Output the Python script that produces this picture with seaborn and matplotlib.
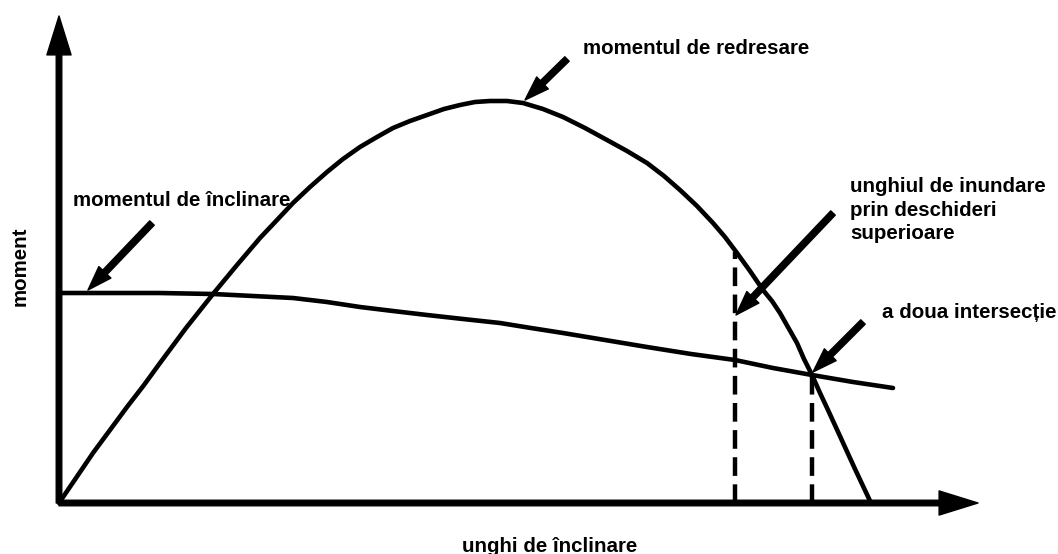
import matplotlib
matplotlib.use("Agg")
import matplotlib.pyplot as plt
import seaborn as sns

# Stability diagram: righting moment vs heeling moment
# heel angle in degrees, moment in arbitrary units
righting_angle = [0, 1.7, 3.4, 6.8, 8.5, 10.1, 12.7, 15.4, 17.8, 20.1, 21.8, 23.4,
                  25.1, 26.8, 28.4, 30.1, 31.8, 33.4, 35.1, 36.8, 38.5, 40.1, 41.6,
                  43.1, 44.8, 46.4, 48.4, 50.4, 52.6, 54.8, 56.8, 58.8, 60.5, 62.1,
                  63.8, 65.4, 66.6, 67.8, 69.1, 70.4, 71.3, 72.1, 73.8, 74.5, 75.3,
                  76.1, 76.9, 78.0, 79.6, 81.2]
righting_moment = [0, 2.5, 5.0, 9.6, 11.8, 14.0, 17.5, 20.9, 23.8, 26.5, 28.3, 30.0,
                   31.6, 33.1, 34.4, 35.6, 36.6, 37.5, 38.2, 38.8, 39.4, 39.8, 40.1,
                   40.2, 40.2, 40.0, 39.4, 38.6, 37.5, 36.3, 35.2, 34.0, 32.7, 31.3,
                   29.7, 28.0, 26.6, 25.0, 23.2, 21.3, 20.2, 19.0, 16.0, 14.4, 12.8,
                   11.0, 9.3, 6.9, 3.4, 0]

heeling_angle = [0, 5.0, 10.0, 15.4, 19.4, 23.4, 26.8, 30.1, 33.4, 36.8, 40.4, 44.1,
                 47.2, 50.4, 54.6, 58.8, 63.2, 67.6, 71.4, 75.3, 79.4, 83.4]
heeling_moment = [21.0, 21.0, 21.0, 20.9, 20.7, 20.5, 20.1, 19.6, 19.2, 18.8, 18.4,
                  18.0, 17.5, 17.0, 16.3, 15.6, 14.9, 14.3, 13.5, 12.8, 12.1, 11.5]

# flooding angle and second intersection (dashed verticals)
marker_angle = [67.6, 75.3]
marker_moment = [25.1, 12.8]

sns.set_style("white")
plt.rcParams["font.family"] = ["Liberation Sans", "DejaVu Sans"]

fig = plt.figure(figsize=(10.58, 5.54), dpi=100)
ax = fig.add_axes([0, 0, 1, 1])

sns.lineplot(x=righting_angle, y=righting_moment, color="black", lw=3.3,
             sort=False, ax=ax, solid_joinstyle="round")
sns.lineplot(x=heeling_angle, y=heeling_moment, color="black", lw=3.3,
             sort=False, ax=ax, solid_joinstyle="round")
ax.vlines(marker_angle, 0, marker_moment, colors="black", lw=3.2,
          linestyles=(0, (4.2, 1.9)))

# axes drawn as arrows
axis_style = "simple,head_length=1.4,head_width=0.87,tail_width=0.2"
ax.annotate("", xy=(0, 48.7), xytext=(0, 0),
            arrowprops=dict(arrowstyle=axis_style, fc="black", ec="black",
                            mutation_scale=20, shrinkA=0, shrinkB=0))
ax.annotate("", xy=(91.9, 0), xytext=(0, 0),
            arrowprops=dict(arrowstyle=axis_style, fc="black", ec="black",
                            mutation_scale=20, shrinkA=0, shrinkB=0))

ax.set_xlim(-5.9, 99.9)
ax.set_ylim(-5.1, 50.3)
ax.axis("off")

txt = dict(fontsize=14.8, fontweight="bold", color="black")
arrow_style = "simple,head_length=1.1,head_width=0.75,tail_width=0.28"


def pointer(start, tip):
    ax.annotate("", xy=tip, xytext=start,
                arrowprops=dict(arrowstyle=arrow_style, fc="black", ec="black",
                                mutation_scale=16, shrinkA=0, shrinkB=0))


ax.text(52.4, 45.5, "momentul de redresare", ha="left", va="center", **txt)
pointer((50.8, 44.4), (46.6, 40.3))

ax.text(1.4, 30.3, "momentul de înclinare", ha="left", va="center", **txt)
pointer((9.3, 28.0), (2.9, 21.3))

ax.text(79.1, 29.3, "unghiul de inundare\nprin deschideri\nsuperioare",
        ha="left", va="center", linespacing=1.3, **txt)
pointer((77.4, 29.0), (67.7, 18.8))

ax.text(82.3, 19.1, "a doua intersecție", ha="left", va="center", **txt)
pointer((80.4, 18.1), (75.4, 13.1))

ax.text(-3.9, 23.7, "moment", ha="center", va="center", rotation=90, **txt)
ax.text(49.1, -4.3, "unghi de înclinare", ha="center", va="center", **txt)

fig.savefig("out.png", dpi=100)
